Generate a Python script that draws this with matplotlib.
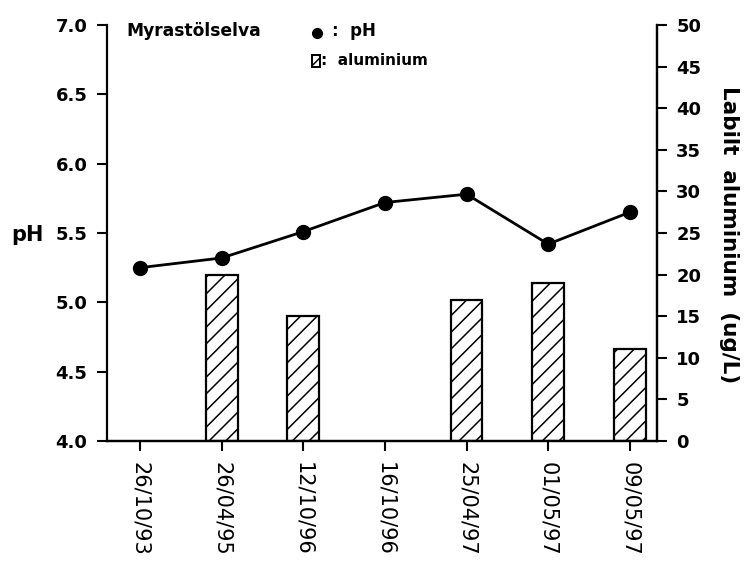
import matplotlib
matplotlib.use("Agg")
import matplotlib.pyplot as plt
from matplotlib.patches import Rectangle

dates = ["26/10/93", "26/04/95", "12/10/96", "16/10/96", "25/04/97", "01/05/97", "09/05/97"]
ph_values = [5.25, 5.32, 5.51, 5.72, 5.78, 5.42, 5.65]
al_values = [None, 20, 15, None, 17, 19, 11]
ph_ticks = [4.0, 4.5, 5.0, 5.5, 6.0, 6.5, 7.0]
al_ticks = [0, 5, 10, 15, 20, 25, 30, 35, 40, 45, 50]

plt.rcParams['font.family'] = ['DejaVu Sans']
plt.rcParams['hatch.linewidth'] = 1.1

fig = plt.figure(figsize=(7.44, 5.61), dpi=100)
ax = fig.add_axes([0.1438, 0.2139, 0.739, 0.7415])
ax2 = ax.twinx()
ax.set_zorder(ax2.get_zorder() + 1)
ax.patch.set_visible(False)

x = list(range(len(dates)))
bx = [i for i, v in zip(x, al_values) if v is not None]
bv = [v for v in al_values if v is not None]
ax2.bar(bx, bv, width=0.39, facecolor='white', edgecolor='black',
        linewidth=1.6, hatch='//')
ax.plot(x, ph_values, color='black', linewidth=2, marker='o', markersize=10,
        markerfacecolor='black')

ax.set_xlim(-0.404, 6.33)
ax.set_ylim(4.0, 7.0)
ax2.set_ylim(0, 50)
ax.set_yticks(ph_ticks)
ax.set_yticklabels([f"{t:.1f}" for t in ph_ticks], fontsize=13, fontweight='bold')
ax2.set_yticks(al_ticks)
ax2.set_yticklabels([str(t) for t in al_ticks], fontsize=13, fontweight='bold')
ax.set_xticks(x)
ax.set_xticklabels(dates, rotation=270, fontsize=15, va='top', ha='center')

for a in (ax, ax2):
    a.spines['top'].set_visible(False)
    for s in a.spines.values():
        s.set_linewidth(1.6)
    a.tick_params(direction='out', length=7, width=1.5)
ax.tick_params(axis='y', pad=7)
ax.tick_params(axis='x', pad=8)
ax2.tick_params(axis='y', pad=7)
ax2.spines['left'].set_visible(False)

ax.set_ylabel("pH", rotation=0, fontsize=15, fontweight='bold')
ax.yaxis.label.set_va('center')
ax.yaxis.label.set_ha('center')
ax.yaxis.set_label_coords(-0.1445, 0.495)
ax2.set_ylabel("Labilt  aluminium  (ug/L)", rotation=270, fontsize=15.5,
               fontweight='bold')
ax2.yaxis.label.set_va('center')
ax2.yaxis.label.set_ha('center')
ax2.yaxis.set_label_coords(1.131, 0.495)

ax.text(0.035, 0.985, "Myrastölselva", transform=ax.transAxes, fontsize=12.3,
        fontweight='bold', va='center', ha='left')
ax.plot([0.382], [0.98], transform=ax.transAxes, marker='o', color='black',
        markersize=7, clip_on=False)
ax.text(0.41, 0.985, ":  pH", transform=ax.transAxes, fontsize=12,
        fontweight='bold', va='center', ha='left')
ax.add_patch(Rectangle((0.372, 0.9), 0.016, 0.027, transform=ax.transAxes,
                       facecolor='white', edgecolor='black', linewidth=1.4,
                       hatch='///', clip_on=False))
ax.text(0.39, 0.914, ":  aluminium", transform=ax.transAxes, fontsize=11,
        fontweight='bold', va='center', ha='left')

fig.savefig("out.png", dpi=100)
